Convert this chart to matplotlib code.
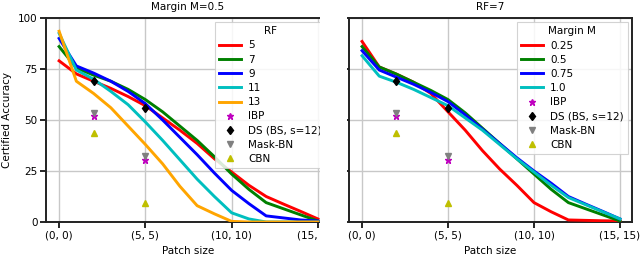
import matplotlib
matplotlib.use("Agg")
import matplotlib.pyplot as plt
from matplotlib.patches import Rectangle

patch_sizes = list(range(16))
xtick_pos = [0, 5, 10, 15]
xtick_labels = ["(0, 0)", "(5, 5)", "(10, 10)", "(15, 15)"]

# Left panel: Margin M=0.5, varying RF
rf_labels = ["5", "7", "9", "11", "13"]
rf_5 = [79, 72.6, 69, 65.5, 61.5, 57, 51, 45, 38.5, 31, 24.5, 18, 12.5, 8.8, 5.2, 1.5]
rf_7 = [86, 75.5, 72, 69, 65, 60, 54, 47, 40, 32, 23.5, 16, 9.5, 6.5, 3.5, 0.5]
rf_9 = [90, 76.5, 73, 69, 64, 58, 50, 41.5, 33, 24, 15.5, 9, 3, 2, 1, 0.5]
rf_11 = [92.5, 74.5, 70, 64, 57.5, 49, 40, 30.5, 21, 12.5, 4.5, 1.5, 0, 0, 0, 0]
rf_13 = [93.5, 69, 63, 56, 47, 38, 28.5, 17.5, 8, 4, 0.3, 0, 0, 0, 0, 0]

# Right panel: RF=7, varying margin
m_labels = ["0.25", "0.5", "0.75", "1.0"]
m_025 = [88.5, 76, 72.5, 68.5, 63, 54, 45, 35, 26, 18, 9.5, 5, 1, 0.8, 0.6, 0.5]
m_05 = [86, 76, 72.5, 68.5, 64.5, 60, 53.5, 46, 38.5, 31, 23.5, 16, 9.5, 6.5, 3.5, 0.5]
m_075 = [84, 74.5, 71, 67.5, 63.5, 59, 52.5, 45.5, 38.5, 31.5, 25, 19, 12.5, 8.8, 5.2, 1.5]
m_10 = [81.5, 71.5, 68.5, 65, 61, 57, 51, 45, 38, 31, 24.5, 18, 12, 8.5, 5, 1.5]

# Baselines
base_x = [2, 5]
ibp = [51.8, 30.3]
ds = [69, 56]
mask_bn = [53.6, 32.3]
cbn = [43.8, 9.2]

plt.rcParams["font.family"] = "DejaVu Sans"
fs = 7.5

fig = plt.figure(figsize=(6.4, 2.59), dpi=100)
W, H = 640, 259
ax1 = fig.add_axes([46 / W, (259 - 222) / H, 284 / W, 204 / H])
ax2 = fig.add_axes([349 / W, (259 - 222) / H, 283 / W, 204 / H])

line_colors_l = ["red", "green", "blue", "#00BFBF", "orange"]
line_colors_r = ["red", "green", "blue", "#00BFBF"]


def draw(ax, series, labels, colors, title, legend_title, show_ylabels):
    for y, lab, c in zip(series, labels, colors):
        ax.plot(patch_sizes, y, color=c, lw=2.1, label=lab, zorder=3)
    ax.plot(base_x, ibp, ls="none", marker="*", color="m", ms=5, label="IBP", zorder=4)
    ax.plot(base_x, ds, ls="none", marker="d", color="black", ms=4.5, mfc="black",
            label="DS (BS, s=12)", zorder=4)
    ax.plot(base_x, mask_bn, ls="none", marker="v", color="gray", ms=4.5,
            label="Mask-BN", zorder=4)
    ax.plot(base_x, cbn, ls="none", marker="^", color="y", ms=4.5, label="CBN", zorder=4)
    ax.set_xlim(-0.76, 15.7)
    ax.set_ylim(0, 100)
    ax.set_xticks(xtick_pos)
    ax.set_xticklabels(xtick_labels, fontsize=fs)
    ax.set_yticks([0, 25, 50, 75, 100])
    if show_ylabels:
        ax.set_yticklabels(["0", "25", "50", "75", "100"], fontsize=fs)
        ax.set_ylabel("Certified Accuracy", fontsize=fs)
    else:
        ax.set_yticklabels([])
    ax.set_xlabel("Patch size", fontsize=fs, labelpad=4)
    ax.set_title(title, fontsize=fs, pad=6)
    ax.grid(True, color="#c8c8c8", lw=1.0)
    ax.set_axisbelow(True)
    for s in ax.spines.values():
        s.set_linewidth(1.4)
        s.set_color("#222222")
    ax.tick_params(direction="out", length=4, width=1.2, pad=2)
    leg = ax.legend(title=legend_title, fontsize=fs, title_fontsize=fs,
                    loc="upper right", borderaxespad=0.4, labelspacing=0.4,
                    handlelength=2.1, handletextpad=0.7, framealpha=0.85,
                    borderpad=0.4, fancybox=False, edgecolor="#cccccc")
    leg.get_frame().set_linewidth(0.8)


draw(ax1, [rf_5, rf_7, rf_9, rf_11, rf_13], rf_labels, line_colors_l,
     "Margin M=0.5", "RF", True)
draw(ax2, [m_025, m_05, m_075, m_10], m_labels, line_colors_r,
     "RF=7", "Margin M", False)

# the reference image is cropped just right of the left panel
fig.patches.append(Rectangle((320 / W, 0), 27 / W, 1, transform=fig.transFigure,
                             facecolor="white", edgecolor="none", zorder=10))

fig.savefig("out.png", dpi=100)
